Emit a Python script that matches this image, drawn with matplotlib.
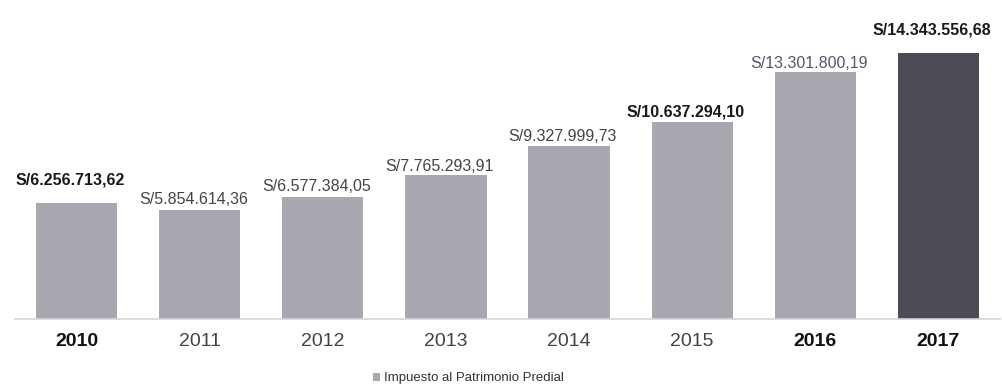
import numpy as np
import matplotlib
matplotlib.use("Agg")
import matplotlib.pyplot as plt
from matplotlib.patches import Patch

plt.rcParams['font.family'] = ['Liberation Sans', 'DejaVu Sans']

years = ['2010', '2011', '2012', '2013', '2014', '2015', '2016', '2017']
values = [6256713.62, 5854614.36, 6577384.05, 7765293.91,
          9327999.73, 10637294.10, 13301800.19, 14343556.68]
value_labels = ['S/6.256.713,62', 'S/5.854.614,36', 'S/6.577.384,05', 'S/7.765.293,91',
                'S/9.327.999,73', 'S/10.637.294,10', 'S/13.301.800,19', 'S/14.343.556,68']
series_name = 'Impuesto al Patrimonio Predial'


def main():
    fig = plt.figure(figsize=(10.03, 3.87), dpi=100)
    ax = fig.add_axes([0.015, 0.176, 0.982, 0.824])

    x = np.arange(len(years))
    colors = ['#a8a8b0'] * (len(years) - 1) + ['#4c4c56']
    ax.bar(x, values, width=0.66, color=colors, zorder=2)

    # label styling, not data
    bold_labels = [True, False, False, False, False, True, False, True]
    label_colors = ['#1a1a1a', '#444444', '#444444', '#444444',
                    '#444444', '#1a1a1a', '#55556a', '#1a1a1a']
    label_offsets = [15, 3, 3, 1, 2, 2, 1, 15]
    for i in range(len(years)):
        ax.annotate(value_labels[i], (x[i] - 0.05, values[i]),
                    xytext=(0, label_offsets[i]), textcoords='offset pixels',
                    ha='center', va='bottom', fontsize=11.5,
                    fontweight='bold' if bold_labels[i] else 'normal',
                    color=label_colors[i])

    ax.set_xlim(-0.5, 7.5)
    ax.set_ylim(0, 17.2e6)
    ax.set_xticks(x)
    ax.set_xticklabels(years, fontsize=14)
    bold_ticks = ['2010', '2016', '2017']
    for t in ax.get_xticklabels():
        if t.get_text() in bold_ticks:
            t.set_fontweight('bold')
            t.set_color('#111111')
        else:
            t.set_color('#444444')
    ax.tick_params(axis='x', length=0, pad=10)
    ax.set_yticks([])
    for s in ['top', 'right', 'left']:
        ax.spines[s].set_visible(False)
    ax.spines['bottom'].set_color('#d6d6d6')
    ax.spines['bottom'].set_linewidth(1.2)

    handle = Patch(facecolor='#a8a8b0', edgecolor='none', label=series_name)
    fig.legend(handles=[handle], loc='center', bbox_to_anchor=(0.467, 0.022),
               frameon=False, fontsize=9.5, handlelength=0.6, handleheight=0.6,
               handletextpad=0.3, labelcolor='#333333')

    fig.savefig('out.png', dpi=100)


main()
